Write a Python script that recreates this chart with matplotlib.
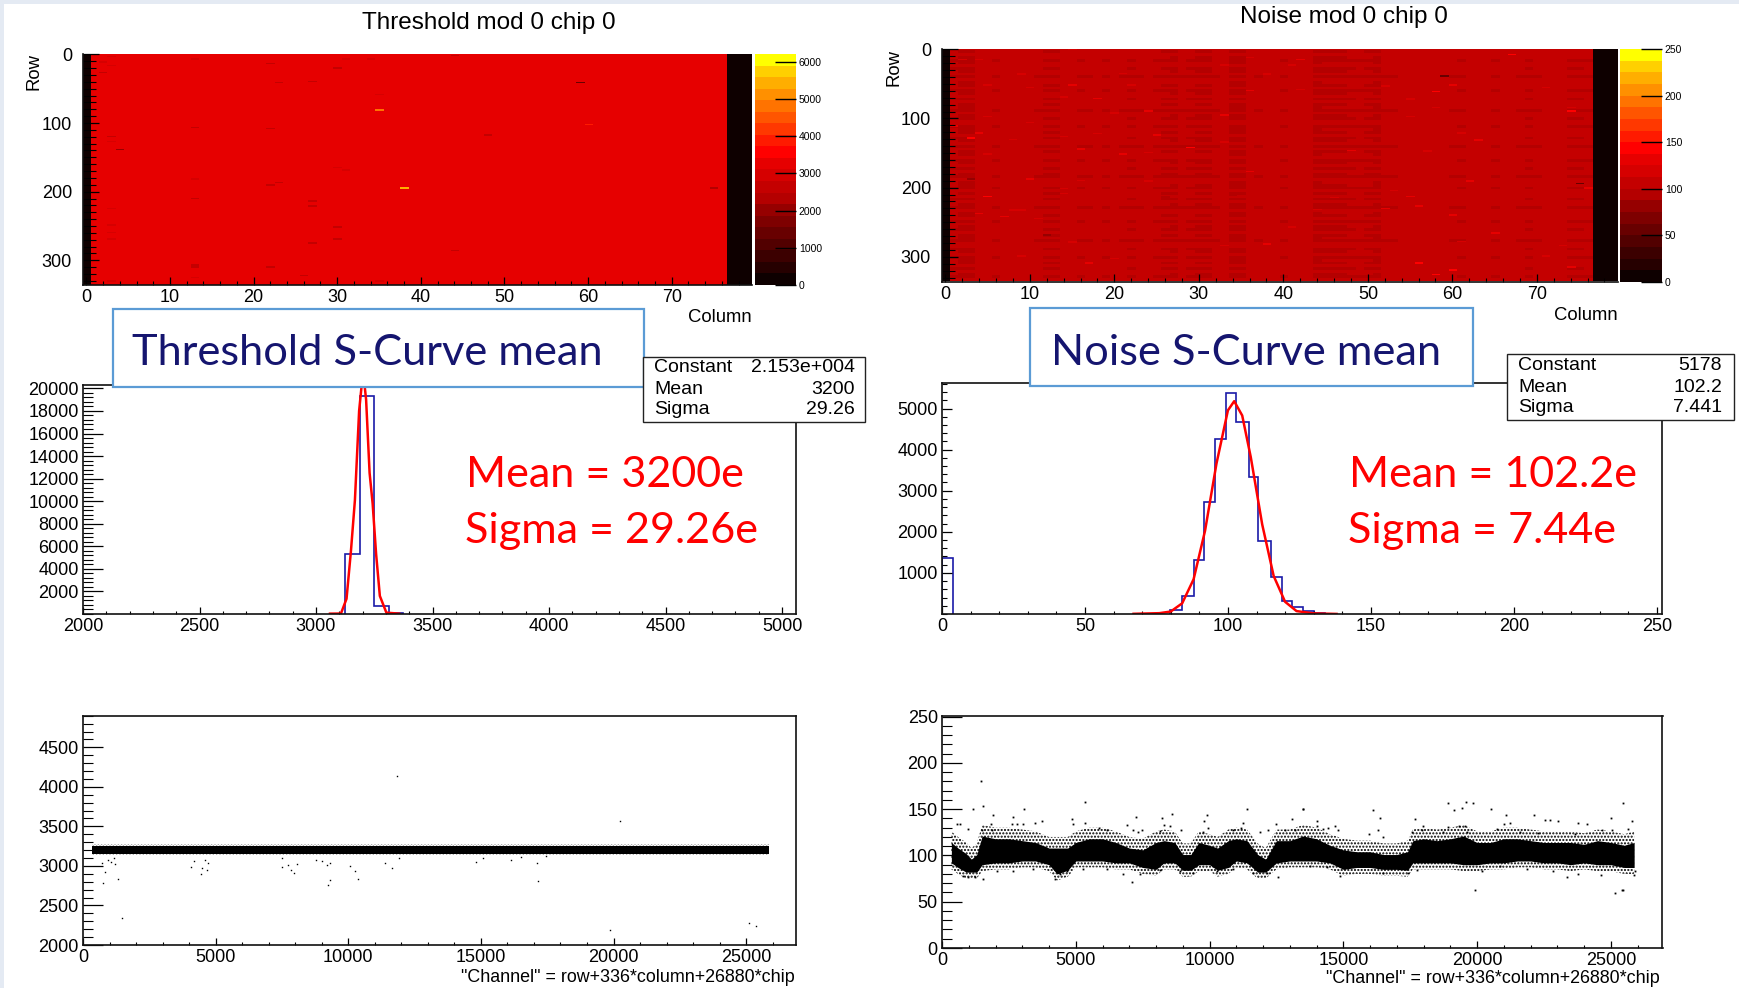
import numpy as np
import matplotlib
matplotlib.use("Agg")
import matplotlib.pyplot as plt
from matplotlib.colors import ListedColormap, BoundaryNorm
from matplotlib.patches import Rectangle
from matplotlib.ticker import MultipleLocator

# ---------- colour bands (20 contour levels) ----------
palette = ['#0e0000','#260000','#3c0000','#520000','#680000','#7e0000','#960000','#b40000',
           '#c40000','#d60000','#e60000','#ff0000','#ff1a00','#ff3800','#ff5500','#ff7300',
           '#ff9000','#ffae00','#ffd000','#ffff00']

# ---------- threshold map ----------
thr_base = 3200
thr_max = 6200
thr_dead_cols = [0, 77, 78, 79]
thr_cells = [(38,194,5400),(35,81,4700),(59,41,1500),(60,102,3800),(75,194,2400),(48,117,2700),(4,138,2000),
    (13,7,2800),(22,13,2700),(30,20,2700),(31,7,2800),(34,7,2800),(44,2,2600),(3,3,2800),(2,11,2800),(3,16,2800),
    (2,26,2700),(23,41,2600),(27,39,2600),(35,58,2800),(13,106,2700),(22,108,2700),(3,119,2700),(3,127,2800),
    (30,164,2800),(31,168,2800),(13,181,2800),(23,186,2700),(22,190,2600),(13,209,2700),(27,213,2700),(27,220,2700),
    (3,224,2800),(3,248,2800),(3,259,2800),(3,268,2800),(30,251,2700),(30,268,2700),(27,274,2700),(44,285,2700),
    (13,306,2700),(13,309,2700),(22,309,2700),(26,321,2700),(13,324,2800),(3,329,2800),(35,329,2800)]

# ---------- noise map ----------
noise_max = 250
noise_cols = [0,101,98,98,105,104,102,104,105,104,104,103,100,100,105,104,102,103,104,102,105,103,101,103,104,102,100,99,
    103,101,99,99,103,104,98,98,104,103,104,104,102,106,106,104,98,99,99,99,101,102,100,98,103,103,105,104,104,105,106,
    105,103,102,104,104,104,102,104,104,103,101,103,104,104,104,101,101,102,0,0,0]
noise_row_offsets = [2,-1,3,0,-3,1,4,-2,0,2,-4,3,1,-1,5,-3,0,2,-2,4,-1,1,-4,3,0,-2,2,5,-3,1,-1,3,
    -2,0,4,-4,2,-1,1,3,-3,0,5,-2,2,-1,-4,3,1,0,-3,4,-1,2,-2,5,0,-4,3,1,-1,2,-3,4,0,-2,3,-1,1,-4,
    2,5,-2,0,3,-3,1,-1,4,-2,2,0,-3,3]
noise_cells = [(3,129,140),(15,53,135),(29,143,145),(21,152,135),(36,61,125),(24,90,130),(5,98,120),(4,122,125),(15,1,120),
    (18,72,125),(14,70,120),(10,56,120),(5,53,122),(9,37,118),(38,37,122),(21,36,118),(2,16,116),(4,16,118),(33,96,125),
    (33,24,120),(36,13,122),(33,135,122),(16,145,125),(14,127,122),(25,125,125),(24,150,118),(5,152,118),(8,131,120),
    (10,107,120),(20,93,120),(18,123,120),(22,53,118),(1,112,125),
    (67,9,140),(58,62,145),(60,53,130),(59,40,60),(74,90,140),(42,16,125),(41,24,122),(52,54,122),(55,73,120),(63,132,125),
    (48,147,125),(57,148,120),(42,59,120),(44,62,88),(61,122,120),(71,56,118),(74,85,120),(58,85,122),(55,98,122),
    (5,213,140),(10,188,125),(4,238,125),(7,242,130),(38,282,130),(33,284,122),(17,309,125),(36,177,125),(24,191,122),
    (14,209,122),(9,233,122),(8,233,120),(11,245,120),(15,279,120),(9,299,122),(20,303,118),(16,190,120),(14,202,120),
    (12,269,85),(3,188,85),(34,212,88),(26,214,88),
    (62,191,135),(56,309,140),(60,319,140),(58,326,140),(76,201,130),(65,266,130),(60,240,125),(56,227,125),(55,213,125),
    (53,205,122),(52,231,125),(44,232,115),(41,257,122),(74,315,125),(71,299,122),(75,195,60),(73,284,120),(61,278,122),(46,215,120)]

# ---------- threshold histogram ----------
thr_edges = [3125, 3187, 3250, 3312, 3375]
thr_counts = [5350, 19350, 680, 60]
thr_fit_x = [3060,3107,3131,3150,3167,3185,3202,3215,3230,3243,3258,3274,3302,3357]
thr_fit_y = [30,40,1350,5600,10100,18000,21530,19000,12500,9800,5300,1600,120,30]
thr_stats = [("Constant","2.153e+004"),("Mean","3200"),("Sigma","29.26")]

# ---------- noise histogram ----------
noise_edges = [79.6,84,88,91.8,95.5,99.4,103,107.3,110.6,114.9,118.8,122.3,126.2,130,134]
noise_counts = [90,445,1320,2735,4250,5385,4680,3345,1765,890,325,170,65,20]
noise_zero_edges = [0,3.9]
noise_zero_count = [1370]
noise_fit_x = [67,76,80,84,88,92,96,100,102.2,105,108,112,116,120,124,130,138]
noise_fit_y = [5,20,60,260,845,2025,3660,4955,5178,4830,3815,2177,926,297,71,15,2]
noise_stats = [("Constant","5178"),("Mean","102.2"),("Sigma","7.441")]

# ---------- threshold vs channel ----------
thr_chan = [336,25872]
thr_core_low = [3155,3155]
thr_core_high = [3258,3258]
thr_fringe_low = [3135,3135]
thr_fringe_high = [3278,3278]
thr_out_x = [11841,20251,1464,19874,25105,25377,753,1318,17155,9247,9310,10356,11632,7950,7845,7490,4435,4665,4079,10251,
    10084,9205,17113,837,732,1046,1213,941,1150,4498,4184,4602,4707,7490,7740,8054,8787,8996,9310,11402,11925,14812,15063,16151,16527,17469]
thr_out_y = [4137,3568,2337,2190,2274,2240,2788,2839,2809,2759,2822,2835,2970,2906,2949,2991,2894,2949,2991,2936,
    3003,3012,3033,2927,3033,3054,3024,3075,3096,2970,3067,3075,3033,3096,3012,3024,3075,3067,3033,3033,3096,3054,3105,3075,3117,3126]

# ---------- noise vs channel ----------
noi_chan = [350,600,900,1100,1300,1500,2000,2500,3000,3500,4000,4300,4700,5000,5500,6000,6500,7000,7500,8000,8300,8700,9000,
    9300,9600,10000,10300,10700,11000,11400,11800,12100,12500,13000,13500,14000,14500,15000,15500,16000,16500,17000,17400,
    17600,18000,18500,19000,19500,20000,20500,21000,21500,22000,22500,23000,23500,24000,24500,25000,25500,25870]
noi_low = [90,85,80,80,80,88,90,90,92,92,88,78,82,92,92,92,90,90,85,83,90,90,82,82,88,88,82,85,92,90,80,80,90,92,92,92,90,83,
    85,85,83,83,82,90,90,90,90,88,88,90,90,92,92,90,90,88,90,88,88,85,85]
noi_high = [118,112,106,100,105,125,122,122,120,118,112,112,112,118,122,122,118,112,110,118,120,118,105,105,118,115,112,120,122,
    120,105,100,120,120,125,122,115,110,108,108,105,105,108,120,122,120,122,125,118,118,122,122,120,118,118,118,116,120,118,115,118]
noi_out_x = [673,548,959,1483,1856,1819,1919,2604,2816,3015,2641,3077,3476,3750,4909,4872,5345,5345,5881,6155,6903,7152,7339,7463,
    7251,8149,8211,8298,8585,8522,8921,9893,9806,9930,9768,11239,11176,10890,11388,11887,12472,12198,13095,13506,12821,13195,1146,1520,
    772,984,1233,1520,2043,2666,3414,4224,4411,4660,5283,6155,6753,7089,7401,8149,8896,9394,10267,10890,11637,12135,12572,
    13483,16099,16373,17682,14006,14006,14255,14442,14691,14816,16311,15962,16498,17993,17931,17557,18903,19139,19426,19576,19862,20510,
    18928,19339,19551,19613,18741,21084,21233,21009,22143,22541,22728,23015,23787,24124,25000,25469,25781,25656,25033,24659,23662,22292,
    21607,20734,14878,14380,13757,16498,17432,17744,20174,19924,23351,23787,24622,25444,25868,25905,22853,21856,20859,25166,25415,1452]
noi_out_y = [134,134,129,127,127,134,144,134,134,134,142,150,135,137,134,139,135,158,130,128,133,128,125,127,
    142,126,141,133,145,132,127,144,137,130,125,135,130,127,150,125,134,128,139,150,127,128,150,153,
    78,77,77,75,83,83,85,75,80,83,85,85,80,71,80,84,83,81,83,85,81,81,77,
    150,149,140,139,137,132,129,130,132,127,127,123,120,132,127,125,157,149,151,158,157,150,
    131,132,132,125,125,144,135,134,144,138,138,137,135,134,141,157,137,129,127,127,123,124,
    125,129,78,87,89,81,81,84,83,63,77,80,79,63,79,83,83,85,89,59,63,180]

# ---------- axis labels ----------
thr_map_title = "Threshold mod 0 chip 0"
noise_map_title = "Noise mod 0 chip 0"
thr_box_title = "Threshold S-Curve mean"
noise_box_title = "Noise S-Curve mean"
thr_notes = ["Mean = 3200e", "Sigma = 29.26e"]
noise_notes = ["Mean = 102.2e", "Sigma = 7.44e"]
channel_label = '"Channel" = row+336*column+26880*chip'

W, H = 1740, 988
plt.rcParams['font.family'] = ['Liberation Sans', 'DejaVu Sans']
plt.rcParams['hatch.linewidth'] = 1.0
fig = plt.figure(figsize=(W/100, H/100), dpi=100, facecolor='white')
cmap = ListedColormap(palette)

def px_axes(l, t, r, b):
    return fig.add_axes([l/W, 1-b/H, (r-l)/W, (b-t)/H])

def ftext(x, y, s, **kw):
    kw.setdefault('va', 'center')
    return fig.text(x/W, 1-y/H, s, zorder=12, **kw)

def style(ax, xmaj, xmin, ymaj, ymin, xlen, ylen, size=13, pad=3):
    ax.xaxis.set_major_locator(MultipleLocator(xmaj)); ax.xaxis.set_minor_locator(MultipleLocator(xmin))
    ax.yaxis.set_major_locator(MultipleLocator(ymaj)); ax.yaxis.set_minor_locator(MultipleLocator(ymin))
    ax.tick_params(axis='x', which='major', direction='in', length=xlen*0.72, width=0.9, labelsize=size, pad=pad)
    ax.tick_params(axis='x', which='minor', direction='in', length=xlen*0.36, width=0.8)
    ax.tick_params(axis='y', which='major', direction='in', length=ylen*0.72, width=0.9, labelsize=size, pad=pad)
    ax.tick_params(axis='y', which='minor', direction='in', length=ylen*0.36, width=0.8)
    for s in ax.spines.values():
        s.set_linewidth(1.2); s.set_color('#111111')

def heat(rect, cbar_rect, grid, vmax, cb_ticks):
    ax = px_axes(*rect)
    levels = np.linspace(0, vmax, 21)
    norm = BoundaryNorm(levels, 20)
    ax.imshow(grid, cmap=cmap, norm=norm, extent=(-0.5, 79.5, 335.5, -0.5), aspect='auto', interpolation='nearest')
    ax.set_xlim(-0.4, 79.6); ax.set_ylim(336, 0)
    style(ax, 10, 2, 100, 10, 8, 14, size=13, pad=3)
    ax.tick_params(axis='y', which='major', length=16*0.72, pad=8)
    ax.tick_params(axis='y', which='minor', length=13*0.72)
    ax.set_xticks([t for t in range(0, 71, 10)])
    ax.set_yticks([0, 100, 200, 300])
    for s in ('top', 'right'):
        ax.spines[s].set_visible(False)
    cb = px_axes(*cbar_rect)
    cb.imshow(np.arange(20)[::-1].reshape(-1, 1), cmap=cmap, vmin=-0.5, vmax=19.5, aspect='auto',
              extent=(0, 1, 0, vmax), interpolation='nearest')
    cb.set_xticks([]); cb.yaxis.tick_right()
    cb.set_yticks(cb_ticks)
    cb.set_ylim(0, vmax)
    cb.tick_params(axis='y', direction='in', length=15, width=1.0, labelsize=7.5, pad=2)
    for s in cb.spines.values():
        s.set_visible(False)

# background strips of the slide
fig.add_artist(Rectangle((0, 0), 4/W, 1, transform=fig.transFigure, color='#e4eaf3', lw=0, zorder=-5))
fig.add_artist(Rectangle((0, 1-4/H), 1, 4/H, transform=fig.transFigure, color='#e4eaf3', lw=0, zorder=-5))

# ---- threshold heat map
tgrid = np.full((336, 80), float(thr_base))
tgrid[:, thr_dead_cols] = 0
for c, r, v in thr_cells:
    tgrid[r:r+2, c] = v
heat((83, 54.4, 752, 285), (755, 54.4, 796, 285), tgrid, thr_max, [0,1000,2000,3000,4000,5000,6000])

# ---- noise heat map
ngrid = np.tile(np.array(noise_cols, float), (336, 1))
live = ngrid > 0
ngrid = ngrid + np.repeat(noise_row_offsets, 4)[:, None] * live
for c, r, v in noise_cells:
    ngrid[r:r+2, c] = v
heat((942, 49.3, 1618, 281.7), (1620, 49.3, 1662, 281.7), ngrid, noise_max, [0,50,100,150,200,250])

for x, y, t in [(489, 23, thr_map_title), (1344, 17.5, noise_map_title)]:
    ftext(x, y, t, ha='center', fontsize=17.5)
for x, y in [(720, 317), (1586, 315)]:
    ftext(x, y, "Column", ha='center', fontsize=13.3)
for x, y in [(34, 71), (894, 67)]:
    ftext(x, y, "Row", ha='center', rotation=90, fontsize=13.3)

# ---- threshold histogram
ax = px_axes(83, 385, 796, 614)
ax.stairs(thr_counts, thr_edges, color='#1a1aa8', lw=1.2)
ax.plot(thr_fit_x, thr_fit_y, color='#ff0000', lw=1.8)
ax.set_xlim(2000, 5060); ax.set_ylim(0, 20300)
style(ax, 500, 100, 2000, 400, 7, 20)
ax.set_yticks(range(2000, 20001, 2000))

# ---- noise histogram
ax = px_axes(942, 382.7, 1662.5, 614)
ax.stairs(noise_counts, noise_edges, color='#1a1aa8', lw=1.2)
ax.stairs(noise_zero_count, noise_zero_edges, color='#1a1aa8', lw=1.2)
ax.plot(noise_fit_x, noise_fit_y, color='#ff0000', lw=1.8)
ax.set_xlim(0, 252); ax.set_ylim(0, 5628)
style(ax, 50, 10, 1000, 200, 7, 10)
ax.set_yticks(range(1000, 5001, 1000))

# ---- threshold scatter
ax = px_axes(83, 715.7, 796, 945)
ax.fill_between(thr_chan, thr_fringe_low, thr_fringe_high, facecolor='none', edgecolor='black', hatch='.....', lw=0)
ax.fill_between(thr_chan, thr_core_low, thr_core_high, color='black', lw=0)
ax.plot(thr_out_x, thr_out_y, ls='none', marker='s', ms=1.0, color='black', mew=0)
ax.set_xlim(0, 26880); ax.set_ylim(2000, 4900)
style(ax, 5000, 1000, 500, 100, 7, 20)
ax.set_yticks([2000, 2500, 3000, 3500, 4000, 4500])

# ---- noise scatter
ax = px_axes(942, 716, 1662.5, 948)
ax.fill_between(noi_chan, np.array(noi_low)-5, np.array(noi_high)+8, facecolor='none', edgecolor='black', hatch='.....', lw=0)
ax.fill_between(noi_chan, np.array(noi_low)+2, np.array(noi_high)-4, color='black', lw=0)
ax.plot(noi_out_x, noi_out_y, ls='none', marker='s', ms=1.3, color='black', mew=0)
ax.set_xlim(0, 26930); ax.set_ylim(0, 250.7)
style(ax, 5000, 1000, 50, 10, 7, 20)
ax.set_yticks([0, 50, 100, 150, 200, 250])

ftext(794.5, 977, channel_label, ha='right', fontsize=12.9)
ftext(1660, 978, channel_label, ha='right', fontsize=12.9)

# ---- overlay boxes
def box(l, t, r, b, ec, lw):
    fig.add_artist(Rectangle((l/W, 1-b/H), (r-l)/W, (b-t)/H, transform=fig.transFigure,
                             facecolor='white', edgecolor=ec, lw=lw, zorder=10))

box(112.6, 309.3, 643.7, 386.7, '#5b9bd5', 1.6)
box(1030, 308, 1473, 386, '#5b9bd5', 1.6)
ftext(132, 353, thr_box_title, color='#15156f', family='Lato', fontsize=31.2)
ftext(1051.5, 353, noise_box_title, color='#15156f', family='Lato', fontsize=31.2)

box(643, 357, 865, 422, '#222222', 1.0)
box(1507, 354, 1734, 420, '#222222', 1.0)
for (lbl, val), y in zip(thr_stats, (368, 389, 409)):
    ftext(654, y, lbl, fontsize=14); ftext(855, y, val, ha='right', fontsize=14)
for (lbl, val), y in zip(noise_stats, (365, 387, 407)):
    ftext(1518, y, lbl, fontsize=14); ftext(1722, y, val, ha='right', fontsize=14)

for txt, x, y in zip(thr_notes, (466, 465), (475, 531)):
    ftext(x, y, txt, color='#ff0000', family='Lato', fontsize=31.1)
for txt, x, y in zip(noise_notes, (1349, 1348), (475, 531)):
    ftext(x, y, txt, color='#ff0000', family='Lato', fontsize=31.1)

fig.savefig('out.png', dpi=100)
